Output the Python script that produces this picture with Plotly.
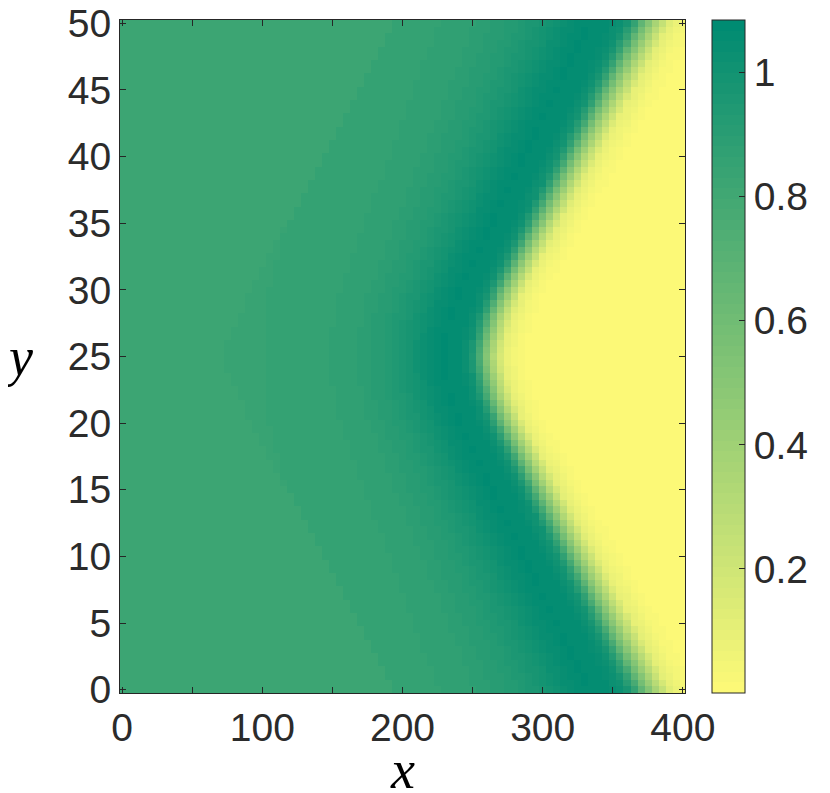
import numpy as np
import plotly.graph_objects as go

# front position (mid level of the yellow edge) read along rows
front_y = [0, 5, 10, 15, 20, 22, 24, 25, 26, 28, 30, 35, 40, 45, 50]
front_x = [372, 347, 322, 297, 272, 264, 259, 258, 259, 264, 272, 297, 322, 347, 372]

# how much wider the wave looks across a row, relative to the tip row
width_y = [0, 12.5, 25, 37.5, 50]
width_k = [1.35, 1.18, 1.0, 1.18, 1.35]

# profile behind the front (x-distance at the tip row) -> value
prof_d = [-45, -25, -14, -7, 0, 5, 10, 18, 30, 42, 55, 70, 90, 120, 170, 400]
prof_z = [0.0, 0.02, 0.1, 0.32, 0.6, 0.85, 1.0, 1.06, 1.07, 1.03, 0.97, 0.92, 0.88, 0.855, 0.845, 0.835]

# weak second chevron; values left of it are a little lower
inner_y = [0, 10, 20, 24, 25, 26, 30, 40, 50]
inner_x = [194, 143, 92, 75, 72, 75, 92, 143, 194]
inner_drop = 0.025

x_ticks = [0, 50, 100, 150, 200, 250, 300, 350, 400]
x_labels = ["0", "", "100", "", "200", "", "300", "", "400"]
y_ticks = [0, 5, 10, 15, 20, 25, 30, 35, 40, 45, 50]
c_ticks = [0.2, 0.4, 0.6, 0.8, 1.0]
c_labels = ["0.2", "0.4", "0.6", "0.8", "1"]

xs = np.arange(0, 401, 5.0)
ys = np.arange(0, 50.01, 0.5)
X, Y = np.meshgrid(xs, ys)
front = np.interp(Y, front_y, front_x)
k = np.interp(Y, width_y, width_k)
Z = np.interp((front - X) / k, prof_d, prof_z)
Z = Z - inner_drop * (X < np.interp(Y, inner_y, inner_x))

# summer-like map, yellow at the low end, 64 flat bands like the original
lo = np.array([252, 249, 119])
hi = np.array([0, 139, 114])
n = 64
cscale = []
for i in range(n):
    c = lo + (hi - lo) * i / (n - 1)
    col = "rgb(%d,%d,%d)" % tuple(np.round(c))
    cscale.append([i / n, col])
    cscale.append([(i + 1) / n, col])

ink = "#262626"
font = dict(family="Liberation Sans, Arial, sans-serif", size=39, color="#2b2b2b")

fig = go.Figure()
fig.add_trace(go.Heatmap(
    x=xs, y=ys, z=Z, zmin=0, zmax=1.085, colorscale=cscale, zsmooth=False,
    colorbar=dict(
        x=1.048, xanchor="left", y=0.5, yanchor="middle", len=1, lenmode="fraction",
        thickness=33, outlinewidth=1, outlinecolor=ink, xpad=0, ypad=0,
        ticks="inside", ticklen=6, tickcolor=ink,
        tickvals=c_ticks, ticktext=c_labels, tickfont=font,
    ),
))

axis = dict(showline=True, linecolor=ink, linewidth=1, mirror="ticks", ticks="inside",
            ticklen=6, tickcolor=ink, tickfont=font, showgrid=False, zeroline=False,
            automargin=False, ticklabeloverflow="allow")
fig.update_xaxes(range=[-1.5, 401.5], tickvals=x_ticks, ticktext=x_labels, **axis)
fig.update_yaxes(range=[-0.25, 50.25], tickvals=y_ticks, **axis)

fig.add_annotation(text="<i>x</i>", xref="paper", yref="paper", x=0.5, y=-0.115,
                   xanchor="center", yanchor="middle", showarrow=False,
                   font=dict(family="Liberation Serif, serif", size=54, color="#000"))
fig.add_annotation(text="<i>y</i>", xref="paper", yref="paper", x=-0.18, y=0.5,
                   xanchor="center", yanchor="middle", showarrow=False,
                   font=dict(family="Liberation Serif, serif", size=54, color="#000"))

# the page body adds 8px, so margins are set to land the axes at 120..685 x 20..693
fig.update_layout(width=830, height=793,
                  margin=dict(l=112, r=153, t=12, b=108, autoexpand=False),
                  paper_bgcolor="white", plot_bgcolor="white", font=font)
fig.write_html("out.html")
